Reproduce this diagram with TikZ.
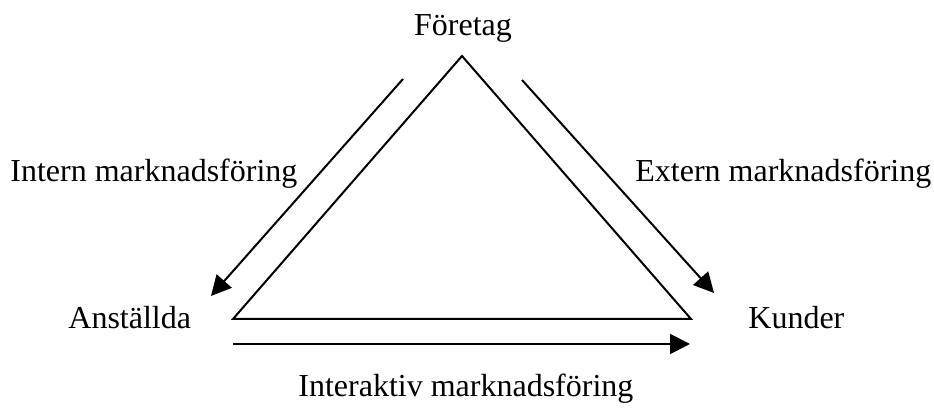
\documentclass[tikz,border=0pt]{standalone}
\usepackage{fontspec}
\setmainfont{Liberation Serif}
\usetikzlibrary{arrows.meta}
\begin{document}
\begin{tikzpicture}[x=0.5pt,y=-0.5pt,
  lbl/.style={inner sep=0pt,font=\fontsize{16}{19}\selectfont},
  edge/.style={line width=1pt},
  arr/.style={line width=1pt,-{Triangle[length=10pt,width=10pt]}}]
\useasboundingbox (0,0) rectangle (934,410);
% triangle corners
\coordinate (top) at (462,56);
\coordinate (bl) at (233,319);
\coordinate (br) at (691,319);
\draw[edge,line join=miter] (top) -- (bl) -- (br) -- cycle;
% labels
\node[lbl,anchor=base] (foretag) at (463,36) {Företag};
\node[lbl,anchor=base west] (intern) at (10,182) {Intern marknadsföring};
\node[lbl,anchor=base west] (extern) at (635,182) {Extern marknadsföring};
\node[lbl,anchor=base west] (anst) at (68,329) {Anställda};
\node[lbl,anchor=base west] (kunder) at (748,329) {Kunder};
\node[lbl,anchor=base west] (inter) at (298,397) {Interaktiv marknadsföring};
% arrows
\coordinate (a1s) at (403,79);
\coordinate (a1e) at (211,296);
\coordinate (a2s) at (522,80);
\coordinate (a2e) at (714,293);
\coordinate (a3s) at (233,344);
\coordinate (a3e) at (690,344);
\draw[arr] (a1s) -- (a1e);
\draw[arr] (a2s) -- (a2e);
\draw[arr] (a3s) -- (a3e);
\end{tikzpicture}
\end{document}
